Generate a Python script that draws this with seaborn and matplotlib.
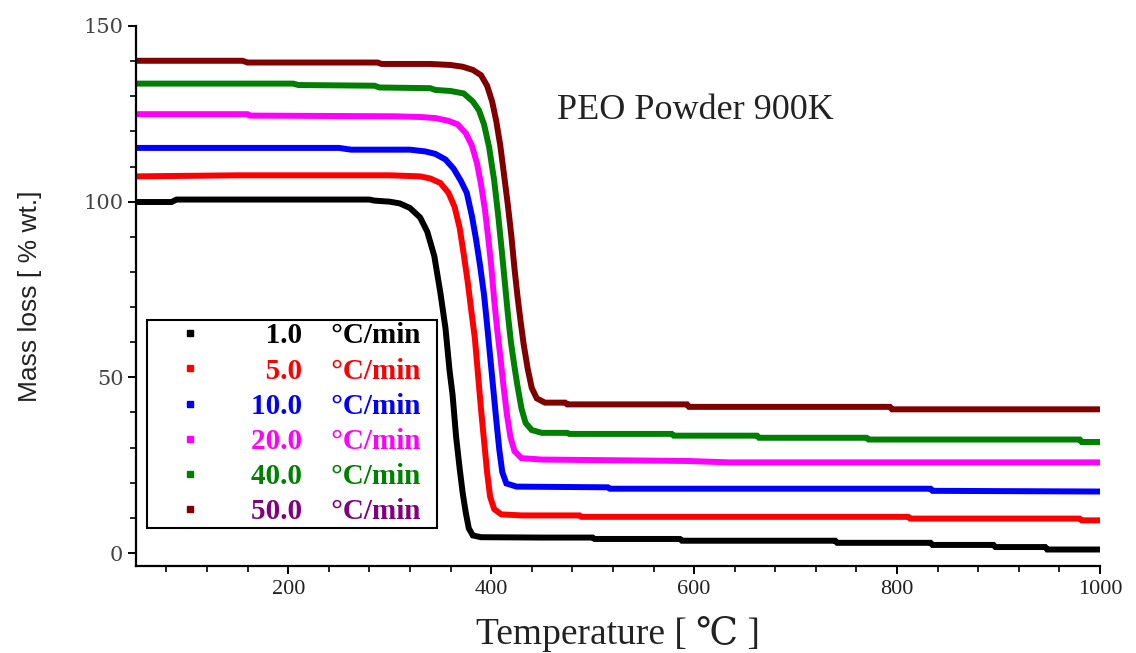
import matplotlib
matplotlib.use("Agg")
import matplotlib.pyplot as plt
from matplotlib.lines import Line2D
from matplotlib.ticker import MultipleLocator
from matplotlib.font_manager import FontProperties
import pandas as pd
import seaborn as sns

# ---------------- data ----------------
rates = ["1.0", "5.0", "10.0", "20.0", "40.0", "50.0"]
line_colors = ["#000000", "#FF0000", "#0000FF", "#FF00FF", "#008000", "#800000"]
label_colors = ["#000000", "#FF0000", "#0000FF", "#FF00FF", "#008000", "#800080"]

temp_1 = [50, 85, 90, 280, 285, 300, 310, 320, 330, 337, 344, 350, 355, 359, 362,
          365.5, 369, 372, 375, 378, 382, 390, 450, 500, 502, 586, 588, 739, 741,
          833, 835, 895, 897, 946, 948, 1000]
mass_1 = [99.9, 99.9, 100.6, 100.6, 100.3, 100.0, 99.5, 98.2, 95.5, 91.5, 84.5, 74,
          64, 52, 45, 33, 24, 17, 11.5, 7, 5.0, 4.5, 4.4, 4.4, 4.0, 4.0, 3.5, 3.5,
          2.9, 2.9, 2.3, 2.3, 1.7, 1.7, 1.0, 1.0]

temp_5 = [50, 150, 300, 330, 340, 350, 358, 364, 369, 373, 377, 380, 384, 387, 390,
          393, 396, 399, 403, 410, 430, 487, 489, 811, 813, 980, 982, 1000]
mass_5 = [107.2, 107.5, 107.5, 107.2, 106.6, 105.3, 102.5, 98.5, 92.5, 85, 77, 70,
          61, 51, 41, 32, 23, 16, 12.5, 11.0, 10.7, 10.7, 10.3, 10.3, 9.8, 9.8, 9.3, 9.3]

temp_10 = [50, 250, 262, 320, 335, 345, 355, 363, 370, 376, 381, 385, 389, 393, 396,
           399, 402, 405, 408, 411, 415, 425, 515, 517, 833, 835, 1000]
mass_10 = [115.3, 115.3, 114.8, 114.8, 114.3, 113.6, 112, 109.4, 106, 102.5, 96, 89.5,
           82, 73.5, 65, 56, 47, 38, 29.5, 23, 19.8, 18.9, 18.7, 18.3, 18.3, 17.7, 17.5]

temp_20 = [50, 160, 162, 305, 330, 345, 358, 367, 375, 381, 386, 390, 394, 397, 400,
           403, 406, 409, 412, 415.5, 419, 423, 430, 450, 593, 635, 1000]
mass_20 = [124.9, 124.9, 124.5, 124.3, 124.1, 123.8, 123.0, 122, 119.5, 116, 111, 105,
           97.5, 90, 82, 72, 63.5, 56, 48, 39.5, 33, 29, 27, 26.6, 26.2, 25.8, 25.8]

temp_40 = [50, 205, 210, 285, 290, 340, 345, 360, 373, 382, 388, 393, 398, 403, 407,
           410.5, 413.5, 416.5, 419.5, 423, 426, 430, 434, 440, 450, 475, 477, 578,
           580, 662, 664, 770, 772, 980, 982, 1000]
mass_40 = [133.6, 133.6, 133.2, 133.0, 132.5, 132.3, 131.8, 131.5, 130.8, 128.5, 126,
           122, 115.5, 106, 96, 86, 77, 68, 60, 53, 47.5, 41, 37, 35, 34.2, 34.2, 33.9,
           33.9, 33.4, 33.4, 32.8, 32.8, 32.3, 32.3, 31.6, 31.6]

temp_50 = [50, 155, 160, 288, 292, 340, 360, 372, 382, 390, 396, 401, 405, 409, 413,
           416.5, 420, 423, 426, 429, 432, 436, 440, 445, 453, 473, 475, 593, 595,
           793, 795, 1000]
mass_50 = [140.1, 140.1, 139.6, 139.6, 139.2, 139.2, 138.9, 138.4, 137.5, 136, 133,
           128.5, 123, 116, 107, 99, 90, 81, 73, 66, 59.5, 52.5, 47, 44, 42.8, 42.8,
           42.3, 42.3, 41.6, 41.6, 40.9, 40.9]

x_ticks = [200, 400, 600, 800, 1000]
y_ticks = [0, 50, 100, 150]
title_text = "PEO Powder 900K"
x_label = "Temperature [ \u2103 ]"
y_label = "Mass loss [ % wt.]"

# ---------------- build long table ----------------
temps = [temp_1, temp_5, temp_10, temp_20, temp_40, temp_50]
masses = [mass_1, mass_5, mass_10, mass_20, mass_40, mass_50]
frames = []
for r, t, m in zip(rates, temps, masses):
    frames.append(pd.DataFrame({"T": t, "mass": m, "rate": r}))
df = pd.concat(frames, ignore_index=True)

# ---------------- style ----------------
sns.set_style("ticks")
plt.rcParams["font.family"] = ["Liberation Serif", "DejaVu Serif"]

fig = plt.figure(figsize=(11.36, 6.53), dpi=100)
ax = fig.add_axes([0.1197, 0.1332, 0.8486, 0.8270])

sns.lineplot(data=df, x="T", y="mass", hue="rate", hue_order=rates,
             palette=dict(zip(rates, line_colors)), estimator=None, sort=False,
             linewidth=4.3, legend=False, ax=ax)
for ln in ax.get_lines():
    ln.set_solid_capstyle("butt")
    ln.set_solid_joinstyle("miter")

ax.set_xlim(50, 1000)
ax.set_ylim(-3.7, 150)
ax.set_xticks(x_ticks)
ax.set_yticks(y_ticks)
ax.xaxis.set_minor_locator(MultipleLocator(40))
ax.yaxis.set_minor_locator(MultipleLocator(10))

for s in ["top", "right"]:
    ax.spines[s].set_visible(False)
for s in ["left", "bottom"]:
    ax.spines[s].set_linewidth(1.6)
    ax.spines[s].set_color("black")

ax.tick_params(axis="both", which="major", direction="out", length=6, width=1.4,
               color="black")
ax.tick_params(axis="both", which="minor", direction="out", length=4.5, width=1.2,
               color="black")
ax.tick_params(axis="x", which="major", pad=4)
ax.tick_params(axis="y", which="major", pad=3)

for lab in ax.get_xticklabels():
    lab.set_fontfamily(["Liberation Serif", "DejaVu Serif"])
    lab.set_fontsize(16)
    lab.set_color("#222222")
for lab in ax.get_yticklabels():
    lab.set_fontfamily(["DejaVu Serif"])
    lab.set_fontsize(15)
    lab.set_color("#444444")

ax.set_xlabel(x_label, fontsize=27, family=["Liberation Serif", "DejaVu Serif"],
              color="#222222", labelpad=12)
ax.set_ylabel(y_label, fontsize=19, family=["Liberation Sans Narrow", "Liberation Sans"],
              color="#222222", labelpad=30)

ax.text(465, 126, title_text, fontsize=26, family=["Liberation Serif"],
        color="#222222", ha="left", va="center")

# ---------------- legend ----------------
handles = [Line2D([], [], linestyle="none", marker="s", markersize=3.8,
                  markerfacecolor=c, markeredgecolor=c) for c in line_colors]
labels = []
for r in rates:
    pad = "\u2007" if len(r) == 3 else ""
    labels.append(pad + r + "\u2003\u00b0C/min  ")

leg = ax.legend(handles, labels, loc="lower left", bbox_to_anchor=(0.0114, 0.070),
                borderaxespad=0, frameon=True, fancybox=False, handlelength=2.75,
                handletextpad=0.7, labelspacing=0.28, borderpad=0.1,
                prop=FontProperties(family=["Liberation Serif", "DejaVu Serif"],
                                    weight="bold", size=21))
leg.get_frame().set_edgecolor("black")
leg.get_frame().set_linewidth(1.5)
leg.get_frame().set_facecolor("white")
leg.get_frame().set_alpha(1)
for txt, c in zip(leg.get_texts(), label_colors):
    txt.set_color(c)

fig.savefig("out.png", dpi=100)
